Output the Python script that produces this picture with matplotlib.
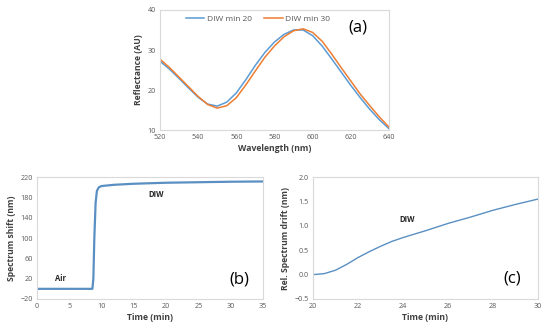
import matplotlib
matplotlib.use("Agg")
import matplotlib.pyplot as plt

plt.rcParams['font.family'] = ['Open Sans', 'DejaVu Sans']

# Panel (a)
wavelength = [520, 525, 530, 535, 540, 545, 550, 555, 560, 565, 570, 575, 580,
              585, 590, 595, 600, 605, 610, 615, 620, 625, 630, 635, 640]
diw_min20 = [27.2, 25.2, 22.9, 20.5, 18.2, 16.5, 16.0, 17.0, 19.3, 22.6, 26.2, 29.4, 32.0,
             33.9, 35.0, 35.0, 33.6, 31.0, 27.8, 24.5, 21.2, 18.1, 15.2, 12.6, 10.4]
diw_min30 = [27.7, 25.6, 23.2, 20.8, 18.4, 16.4, 15.5, 16.1, 18.1, 21.3, 24.8, 28.2, 31.0,
             33.3, 34.8, 35.3, 34.4, 32.2, 29.0, 25.6, 22.3, 19.0, 16.1, 13.3, 10.8]

# Panel (b)
time_b = [0, 4, 8.6, 8.75, 8.9, 9.1, 9.3, 9.6, 10, 12, 15, 20, 25, 30, 35]
shift_b = [0, 0, 0, 20, 100, 170, 193, 200, 202.5, 205, 207, 209, 210, 211, 211.5]

# Panel (c)
time_c = [20, 20.5, 21, 21.5, 22, 22.5, 23, 23.5, 24, 25, 26, 27, 28, 29, 30]
drift_c = [0.0, 0.02, 0.09, 0.21, 0.35, 0.47, 0.58, 0.68, 0.76, 0.9, 1.05, 1.18, 1.32, 1.44, 1.55]

BLUE = '#5B9BD5'
ORANGE = '#ED7D31'
LINE_B = '#5A8FC2'
TICK_C = '#595959'
SPINE_C = '#D9D9D9'
LABEL_C = '#404040'

fig = plt.figure(figsize=(5.5, 3.32), dpi=100)
ax_a = fig.add_axes([0.291, 0.608, 0.416, 0.362])
ax_b = fig.add_axes([0.067, 0.0994, 0.411, 0.367])
ax_c = fig.add_axes([0.569, 0.0994, 0.409, 0.367])

def style(ax):
    for s in ax.spines.values():
        s.set_color(SPINE_C)
        s.set_linewidth(0.8)
    ax.tick_params(length=0, labelsize=5.2, colors=TICK_C, pad=3)

ax_a.plot(wavelength, diw_min20, color=BLUE, lw=1.1, label='DIW min 20')
ax_a.plot(wavelength, diw_min30, color=ORANGE, lw=1.1, label='DIW min 30')
ax_a.set_xlim(520, 640)
ax_a.set_ylim(10, 40)
ax_a.set_xticks(range(520, 641, 20))
ax_a.set_yticks(range(10, 41, 10))
style(ax_a)
ax_a.set_xlabel('Wavelength (nm)', fontsize=6.2, fontweight='bold', color=LABEL_C, labelpad=2)
ax_a.set_ylabel('Reflectance (AU)', fontsize=6.2, fontweight='bold', color=LABEL_C, labelpad=3)
leg = ax_a.legend(loc='upper left', bbox_to_anchor=(0.08, 1.02), ncol=2, frameon=False,
                  fontsize=6, handlelength=2.2, columnspacing=1.5, handletextpad=0.3)
for t in leg.get_texts():
    t.set_color(TICK_C)
ax_a.text(0.865, 0.85, '(a)', transform=ax_a.transAxes, fontsize=12, ha='center', va='center', color='black')

ax_b.plot(time_b, shift_b, color=LINE_B, lw=1.6)
ax_b.set_xlim(0, 35)
ax_b.set_ylim(-20, 220)
ax_b.set_xticks(range(0, 36, 5))
ax_b.set_yticks(range(-20, 221, 40))
style(ax_b)
ax_b.set_xlabel('Time (min)', fontsize=6.2, fontweight='bold', color=LABEL_C, labelpad=2)
ax_b.set_ylabel('Spectrum shift (nm)', fontsize=6.2, fontweight='bold', color=LABEL_C, labelpad=3)
ax_b.text(18.4, 185, 'DIW', fontsize=5.5, fontweight='bold', ha='center', va='center', color='#262626')
ax_b.text(3.6, 21, 'Air', fontsize=5.5, fontweight='bold', ha='center', va='center', color='#262626')
ax_b.text(0.894, 0.156, '(b)', transform=ax_b.transAxes, fontsize=12, ha='center', va='center', color='black')

ax_c.plot(time_c, drift_c, color=LINE_B, lw=1.0)
ax_c.set_xlim(20, 30)
ax_c.set_ylim(-0.5, 2.0)
ax_c.set_xticks(range(20, 31, 2))
ax_c.set_yticks([-0.5, 0.0, 0.5, 1.0, 1.5, 2.0])
ax_c.set_yticklabels(['\u22120.5', '0.0', '0.5', '1.0', '1.5', '2.0'])
style(ax_c)
ax_c.set_xlabel('Time (min)', fontsize=6.2, fontweight='bold', color=LABEL_C, labelpad=2)
ax_c.set_ylabel('Rel. Spectrum drift (nm)', fontsize=6.2, fontweight='bold', color=LABEL_C, labelpad=3)
ax_c.text(24.2, 1.13, 'DIW', fontsize=5.5, fontweight='bold', ha='center', va='center', color='#262626')
ax_c.text(0.884, 0.172, '(c)', transform=ax_c.transAxes, fontsize=12, ha='center', va='center', color='black')

fig.savefig('out.png', dpi=100)
